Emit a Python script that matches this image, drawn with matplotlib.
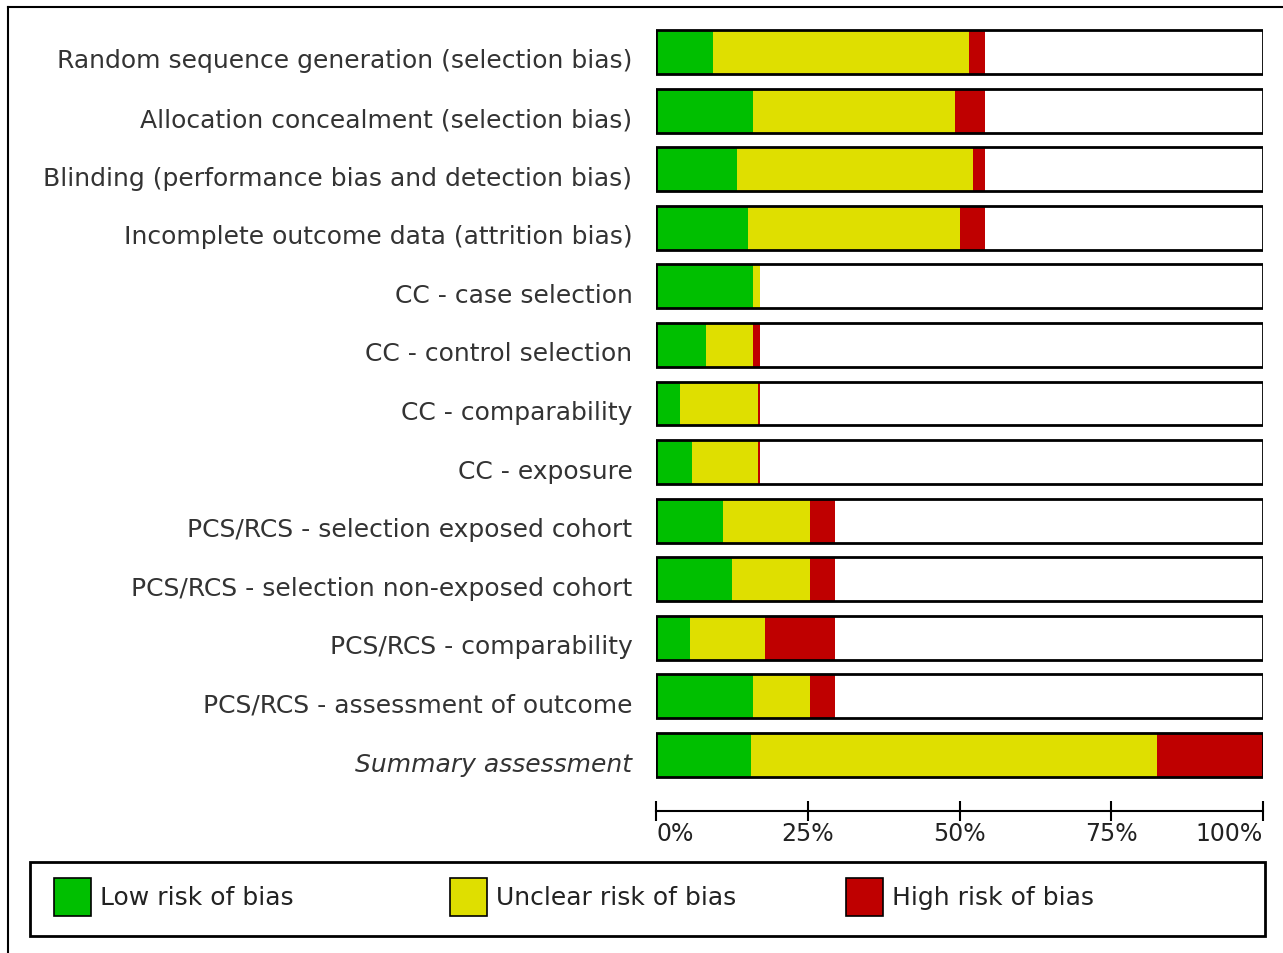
import numpy as np
import matplotlib
matplotlib.use("Agg")
import matplotlib.pyplot as plt
from matplotlib.patches import Rectangle
from matplotlib.lines import Line2D
from matplotlib.transforms import ScaledTranslation

# risk-of-bias domains (top to bottom) and % of studies per judgement
domains = [
    "Random sequence generation (selection bias)",
    "Allocation concealment (selection bias)",
    "Blinding (performance bias and detection bias)",
    "Incomplete outcome data (attrition bias)",
    "CC - case selection",
    "CC - control selection",
    "CC - comparability",
    "CC - exposure",
    "PCS/RCS - selection exposed cohort",
    "PCS/RCS - selection non-exposed cohort",
    "PCS/RCS - comparability",
    "PCS/RCS - assessment of outcome",
    "Summary assessment",
]
low = [9.4, 15.9, 13.3, 15.2, 15.9, 8.3, 4.0, 6.0, 11.0, 12.5, 5.6, 15.9, 15.6]
unclear = [42.1, 33.3, 39.0, 34.8, 1.2, 7.7, 12.8, 10.8, 14.3, 12.8, 12.3, 9.4, 66.9]
high = [2.7, 5.0, 1.9, 4.2, 0.0, 1.1, 0.3, 0.3, 4.2, 4.2, 11.6, 4.2, 17.5]
xticks = [0, 25, 50, 75, 100]
xticklabels = ["0%", "25%", "50%", "75%", "100%"]
legend_labels = ["Low risk of bias", "Unclear risk of bias", "High risk of bias"]
colors = ["#00bf00", "#dfdf00", "#bf0000"]

W, H = 1283, 954
fig = plt.figure(figsize=(W / 100, H / 100), dpi=100)
fig.patch.set_facecolor("white")

def fx(px):
    return px / W

def fy(py):
    return 1 - py / H

# bar area
x0, x1 = 656, 1263
top, bot = 23.7, 785.3
ax = fig.add_axes([fx(x0), fy(bot), fx(x1 - x0), (bot - top) / H])
n = len(domains)
y = np.arange(n)
h = 0.75
low_a, unc_a, high_a = np.array(low), np.array(unclear), np.array(high)
ax.barh(y, 100, height=h, color="white", edgecolor="none", zorder=1)
ax.barh(y, low_a, height=h, color=colors[0], edgecolor="none", zorder=2)
ax.barh(y, unc_a, left=low_a, height=h, color=colors[1], edgecolor="none", zorder=2)
ax.barh(y, high_a, left=low_a + unc_a, height=h, color=colors[2], edgecolor="none", zorder=2)
ax.barh(y, 100, height=h, color="none", edgecolor="black", linewidth=2, zorder=3)
ax.set_xlim(0, 100)
ax.set_ylim(n - 0.5, -0.5)

ax.set_yticks(y)
ax.set_yticklabels(domains, fontsize=18, color="#333333")
ax.get_yticklabels()[-1].set_fontstyle("italic")
ax.tick_params(axis="y", length=0, pad=17)
shift = ScaledTranslation(0, -6 / 100, fig.dpi_scale_trans)
for t in ax.get_yticklabels():
    t.set_transform(t.get_transform() + shift)

for s in ["top", "right", "left"]:
    ax.spines[s].set_visible(False)
ax.spines["bottom"].set_position(("outward", 19))
ax.spines["bottom"].set_linewidth(1.5)
ax.set_xticks(xticks)
ax.set_xticklabels(xticklabels, fontsize=17, color="#222222")
ax.tick_params(axis="x", direction="inout", length=14.4, width=1.5, pad=0)
labs = ax.get_xticklabels()
labs[0].set_horizontalalignment("left")
labs[-1].set_horizontalalignment("right")

# outer frame (runs off the right and bottom edge)
fig.add_artist(Line2D([fx(8), fx(8)], [fy(8), 0], color="black", lw=1.5, transform=fig.transFigure))
fig.add_artist(Line2D([fx(8), 1], [fy(8), fy(8)], color="black", lw=1.5, transform=fig.transFigure))

# legend
fig.add_artist(Rectangle((fx(30), fy(937)), fx(1265 - 30), (937 - 863) / H,
                         facecolor="white", edgecolor="black", lw=2, transform=fig.transFigure))
for i, (lab, c) in enumerate(zip(legend_labels, colors)):
    px = 54 + 396 * i
    fig.add_artist(Rectangle((fx(px), fy(917)), fx(37), 38 / H, facecolor=c,
                             edgecolor="black", lw=1.2, transform=fig.transFigure))
    fig.text(fx(px + 46), fy(898), lab, fontsize=18, color="#222222",
             ha="left", va="center")

fig.savefig("out.png", dpi=100)
